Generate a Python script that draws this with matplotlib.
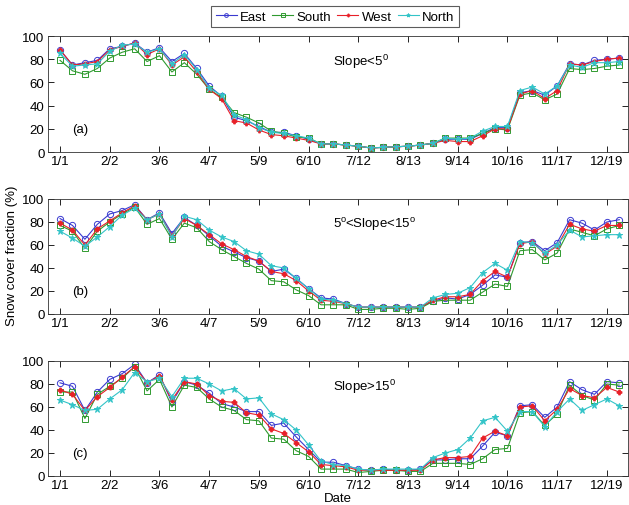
import numpy as np
import matplotlib
matplotlib.use("Agg")
import matplotlib.pyplot as plt

tick_labels = ["1/1", "2/2", "3/6", "4/7", "5/9", "6/10", "7/12", "8/13", "9/14", "10/16", "11/17", "12/19"]
series_names = ["East", "South", "West", "North"]

# Panel (a) Slope<5
a_east  = [88, 75, 77, 79, 89, 91, 94, 86, 90, 78, 85, 72, 57, 48, 30, 27, 22, 17, 17, 14, 11, 7,
           7, 6, 5, 3.5, 4, 4.5, 5, 6, 7.5, 11, 11, 11, 16, 21, 21, 51, 53, 49, 57, 76, 75, 79, 80, 81]
a_south = [79, 70, 67, 72, 81, 86, 89, 78, 83, 69, 77, 67, 54, 47, 34, 30, 25, 18, 16, 13, 12, 7,
           7, 6, 5, 3.5, 4, 4.5, 5, 6, 7.5, 12, 12, 12, 16, 20, 19, 49, 51, 45, 50, 72, 71, 72, 74, 75]
a_west  = [88, 75, 76, 78, 88, 91, 94, 84, 89, 75, 82, 69, 54, 46, 27, 25, 19, 15, 14, 12, 10, 7,
           7, 6, 5, 3.5, 4, 4.5, 5, 6, 7.5, 10, 9, 9, 14, 20, 20, 50, 53, 46, 53, 76, 75, 78, 80, 81]
a_north = [85, 74, 75, 76, 87, 92, 93, 86, 89, 76, 84, 71, 55, 49, 32, 28, 21, 17, 16, 14, 12, 7,
           7, 6, 5, 3.5, 4, 4.5, 5, 6, 7.5, 12, 11, 12, 18, 22, 22, 53, 56, 50, 57, 75, 73, 77, 77, 78]

# Panel (b) 5<Slope<15
b_east  = [83, 77, 65, 78, 87, 90, 95, 82, 88, 70, 84, 77, 68, 59, 54, 49, 46, 37, 39, 31, 22, 14,
           13, 9, 6, 6, 6, 6, 6, 6, 11, 14, 13, 17, 25, 34, 32, 62, 63, 55, 62, 82, 79, 73, 80, 82]
b_south = [77, 72, 57, 72, 80, 87, 93, 78, 83, 65, 79, 75, 63, 56, 50, 44, 39, 29, 28, 21, 16, 8,
           8, 8, 4, 4, 5, 5, 4, 5, 11, 12, 12, 12, 19, 26, 24, 55, 56, 47, 53, 74, 71, 68, 74, 77]
b_west  = [79, 73, 60, 74, 81, 88, 94, 82, 87, 68, 83, 77, 69, 61, 56, 50, 46, 37, 35, 29, 20, 12,
           11, 9, 6, 6, 6, 6, 6, 6, 12, 15, 15, 17, 29, 37, 32, 61, 63, 52, 59, 78, 74, 72, 77, 77]
b_north = [72, 66, 59, 67, 76, 86, 92, 82, 87, 67, 85, 82, 73, 67, 63, 55, 52, 42, 40, 31, 22, 13,
           12, 9, 6, 6, 6, 6, 6, 6, 14, 17, 18, 23, 36, 44, 38, 63, 62, 53, 60, 73, 67, 68, 69, 69]

# Panel (c) Slope>15
c_east  = [81, 78, 57, 73, 84, 89, 97, 81, 88, 64, 82, 79, 72, 63, 60, 56, 56, 44, 46, 34, 23, 12,
           12, 9, 6, 5, 6, 5, 5, 6, 14, 14, 15, 15, 26, 38, 35, 61, 62, 51, 60, 82, 75, 71, 82, 81]
c_south = [73, 73, 50, 71, 78, 85, 95, 74, 84, 60, 79, 77, 67, 60, 57, 49, 48, 33, 32, 22, 17, 6,
           6, 6, 3, 4, 5, 5, 4, 4, 11, 11, 11, 10, 15, 23, 24, 55, 56, 44, 54, 79, 70, 66, 80, 79]
c_west  = [75, 71, 57, 69, 77, 86, 95, 81, 87, 66, 82, 80, 70, 65, 64, 55, 53, 41, 37, 29, 21, 10,
           9, 8, 5, 5, 5, 5, 5, 5, 14, 16, 16, 17, 33, 39, 35, 60, 61, 48, 58, 76, 70, 68, 77, 73]
c_north = [66, 62, 57, 58, 67, 75, 90, 82, 85, 69, 85, 85, 80, 74, 76, 67, 68, 54, 49, 40, 27, 13,
           10, 9, 6, 5, 6, 6, 6, 6, 16, 20, 23, 33, 48, 51, 39, 56, 56, 43, 56, 67, 57, 62, 67, 61]

panels = [
    ([a_east, a_south, a_west, a_north], "(a)", "Slope<5$^{0}$"),
    ([b_east, b_south, b_west, b_north], "(b)", "5$^{o}$<Slope<15$^{o}$"),
    ([c_east, c_south, c_west, c_north], "(c)", "Slope>15$^{0}$"),
]

colors = ["#3a3ad0", "#2f9a2f", "#e82028", "#33c4c8"]
markers = ["o", "s", "P", "*"]
msizes = [4.5, 4.5, 3.5, 4.5]

plt.rcParams["font.family"] = ["Liberation Sans", "DejaVu Sans"]
plt.rcParams["font.size"] = 8.5
plt.rcParams["mathtext.fontset"] = "custom"
plt.rcParams["mathtext.rm"] = "Liberation Sans"
plt.rcParams["mathtext.it"] = "Liberation Sans"

W, H = 629, 506
fig = plt.figure(figsize=(W / 100, H / 100), dpi=100)

x = np.arange(1, 47)
tick_pos = np.arange(1, 47, 4)

boxes = [(37, 153), (200, 315), (362, 477)]
L, R = 48, 628
handles = []
for p, ((top, bot), (data, lab, slope)) in enumerate(zip(boxes, panels)):
    ax = fig.add_axes([L / W, 1 - bot / H, (R - L) / W, (bot - top) / H])
    for i, s in enumerate(data):
        mfc = "none" if markers[i] in ("o", "s") else colors[i]
        h, = ax.plot(x, s, color=colors[i], marker=markers[i], ms=msizes[i], lw=0.8,
                     mfc=mfc, mec=colors[i], mew=0.7, label=series_names[i])
        if p == 0:
            handles.append(h)
    ax.set_xlim(0.03, 46.7)
    ax.set_ylim(0, 100)
    ax.set_xticks(tick_pos)
    ax.set_xticklabels(tick_labels)
    ax.set_yticks(np.arange(0, 101, 20))
    ax.tick_params(direction="in", top=True, right=True, length=4, width=0.6,
                   labelsize=9.5, pad=2.5)
    for sp in ax.spines.values():
        sp.set_linewidth(0.6)
        sp.set_color("#333333")
    ax.text((72 - L) / (R - L), (153 - 130) / 116, lab, transform=ax.transAxes,
            fontsize=9.5, va="center", ha="left")
    ax.text((333 - L) / (R - L), (153 - 62) / 116, slope, transform=ax.transAxes,
            fontsize=9.5, va="center", ha="left")

fig.text(12 / W, 1 - 256 / H, "Snow cover fraction (%)", rotation=90, va="center",
         ha="center", fontsize=9.5)
fig.text(338 / W, 1 - 499 / H, "Date", ha="center", va="center", fontsize=9.5)

leg = fig.legend(handles=handles, loc="upper center", bbox_to_anchor=(335 / W, 1 - 7 / H),
                 ncol=4, frameon=True, fancybox=False, fontsize=9.5, handlelength=1.6,
                 handletextpad=0.25, columnspacing=0.45, borderpad=0.35, borderaxespad=0,
                 markerscale=0.6)
leg.get_frame().set_edgecolor("#333333")
leg.get_frame().set_linewidth(0.8)

fig.savefig("out.png", dpi=100)
